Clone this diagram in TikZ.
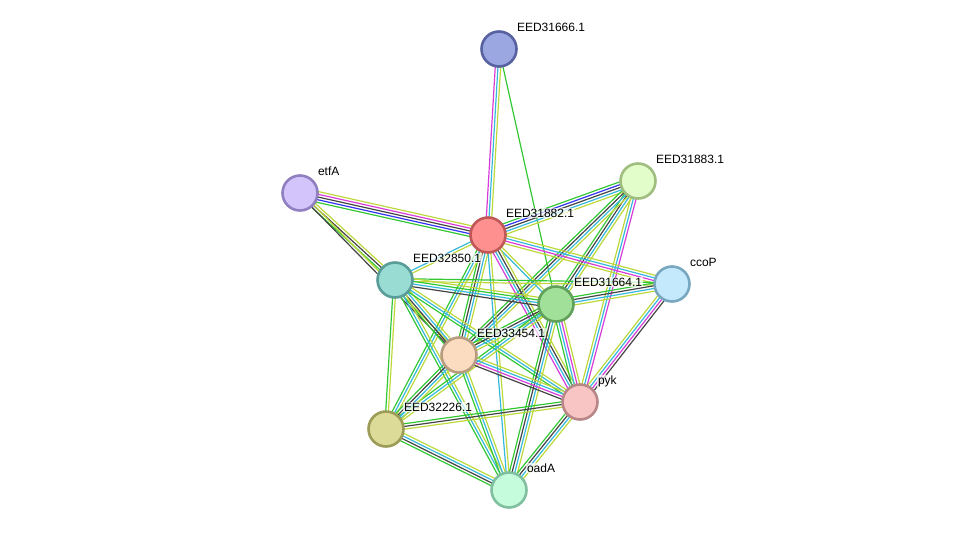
\documentclass[tikz,border=0pt]{standalone}
\usepackage{fontspec}
\setmainfont{Liberation Sans}
\usetikzlibrary{calc}
\pgfdeclarelayer{bg}
\pgfsetlayers{bg,main}
\definecolor{cgr}{HTML}{33C833}
\definecolor{cbl}{HTML}{3333F0}
\definecolor{cbk}{HTML}{444444}
\definecolor{cmg}{HTML}{D83CD8}
\definecolor{ccy}{HTML}{35B8DD}
\definecolor{cyg}{HTML}{BDD83A}
\newcommand\bund[3]{%
  \gdef\nn{0}%
  \foreach \c in {#3}{\xdef\nn{\the\numexpr\nn+1\relax}}%
  \foreach \c [count=\i] in {#3}{%
    \pgfmathsetmacro\off{(\i-(\nn+1)/2)*2.7}%
    \draw[draw=\c, line width=1.2pt]
      ($(#1.center)!\off pt!90:(#2.center)$) -- ($(#2.center)!\off pt!-90:(#1.center)$);
  }%
}
\tikzset{
  prot/.style={circle, minimum size=35pt, inner sep=0pt, line width=2.6pt},
  lab/.style={anchor=base west, inner sep=0.8pt, fill=white, fill opacity=0.7, text opacity=1,
    font=\fontsize{12}{14}\selectfont}
}
\begin{document}
\begin{tikzpicture}[x=1pt,y=-1pt]
\useasboundingbox (0,0) rectangle (976,536);
\node[prot, fill={rgb,255:red,155;green,167;blue,224}, draw={rgb,255:red,88;green,98;blue,160}] (A) at (499,49) {};
\node[prot, fill={rgb,255:red,226;green,252;blue,202}, draw={rgb,255:red,160;green,190;blue,128}] (B) at (638,181) {};
\node[prot, fill={rgb,255:red,212;green,196;blue,252}, draw={rgb,255:red,144;green,128;blue,192}] (E) at (300,193) {};
\node[prot, fill={rgb,255:red,255;green,144;blue,144}, draw={rgb,255:red,192;green,88;blue,88}] (R) at (488,235) {};
\node[prot, fill={rgb,255:red,196;green,232;blue,252}, draw={rgb,255:red,120;green,168;blue,192}] (C) at (672,284) {};
\node[prot, fill={rgb,255:red,152;green,220;blue,212}, draw={rgb,255:red,90;green,156;blue,152}] (T) at (395,280) {};
\node[prot, fill={rgb,255:red,160;green,224;blue,152}, draw={rgb,255:red,96;green,160;blue,88}] (G) at (556,304) {};
\node[prot, fill={rgb,255:red,252;green,220;blue,192}, draw={rgb,255:red,184;green,156;blue,128}] (P) at (459,355) {};
\node[prot, fill={rgb,255:red,248;green,196;blue,196}, draw={rgb,255:red,184;green,136;blue,136}] (Y) at (580,402) {};
\node[prot, fill={rgb,255:red,220;green,220;blue,152}, draw={rgb,255:red,156;green,156;blue,88}] (O) at (386,429) {};
\node[prot, fill={rgb,255:red,196;green,252;blue,220}, draw={rgb,255:red,128;green,192;blue,160}] (D) at (509,490) {};
\node[lab] (lA) at ($(A)+(17,-17.5)$) {EED31666.1};
\node[lab] (lB) at ($(B)+(17,-17.5)$) {EED31883.1};
\node[lab] (lE) at ($(E)+(17,-17.5)$) {etfA};
\node[lab] (lR) at ($(R)+(17,-17.5)$) {EED31882.1};
\node[lab] (lC) at ($(C)+(17,-17.5)$) {ccoP};
\node[lab] (lT) at ($(T)+(17,-17.5)$) {EED32850.1};
\node[lab] (lG) at ($(G)+(17,-17.5)$) {EED31664.1};
\node[lab] (lP) at ($(P)+(17,-17.5)$) {EED33454.1};
\node[lab] (lY) at ($(Y)+(17,-17.5)$) {pyk};
\node[lab] (lO) at ($(O)+(17,-17.5)$) {EED32226.1};
\node[lab] (lD) at ($(D)+(17,-17.5)$) {oadA};
\begin{pgfonlayer}{bg}
\bund{A}{R}{cmg,ccy,cyg}
\bund{A}{G}{cgr}
\bund{E}{R}{cgr,cbl,cbk,cmg,cyg}
\bund{E}{T}{cgr,cbk,cyg}
\bund{E}{P}{cbk,cyg}
\bund{B}{R}{cgr,cbl,cbk,ccy,cyg}
\bund{B}{G}{cgr,cbk,ccy,cyg}
\bund{B}{P}{cgr,cbk,ccy,cyg}
\bund{B}{Y}{cyg,ccy,cmg}
\bund{R}{C}{cyg,cmg,ccy,cyg}
\bund{R}{T}{ccy,cyg}
\bund{R}{G}{ccy,cyg}
\bund{R}{P}{cgr,cbk,ccy,cyg}
\bund{R}{Y}{cmg,ccy,cbk,cyg}
\bund{R}{O}{cgr,ccy,cyg}
\bund{R}{D}{ccy,cyg}
\bund{T}{C}{cyg,cgr}
\bund{T}{G}{cbk,ccy,cgr,cyg}
\bund{T}{P}{cgr,cbk,ccy,cyg}
\bund{T}{Y}{cgr,ccy,cyg}
\bund{T}{O}{cgr,cyg}
\bund{T}{D}{cgr,ccy,cyg}
\bund{G}{C}{cyg,ccy,cbk,cgr}
\bund{G}{P}{cgr,cbk,ccy,cyg}
\bund{G}{Y}{cgr,ccy,cmg,cyg}
\bund{G}{O}{cgr,ccy,cyg}
\bund{G}{D}{cgr,cbk,ccy,cyg}
\bund{C}{Y}{cyg,ccy,cmg,cbk}
\bund{P}{Y}{cbk,cmg,ccy,cyg}
\bund{P}{O}{cgr,cbk,ccy,cyg}
\bund{P}{D}{cgr,ccy,cyg}
\bund{Y}{O}{cgr,cbk,cyg}
\bund{Y}{D}{cgr,cbk,ccy,cyg}
\bund{O}{D}{cgr,cbk,ccy,cyg}
\end{pgfonlayer}
\end{tikzpicture}
\end{document}
